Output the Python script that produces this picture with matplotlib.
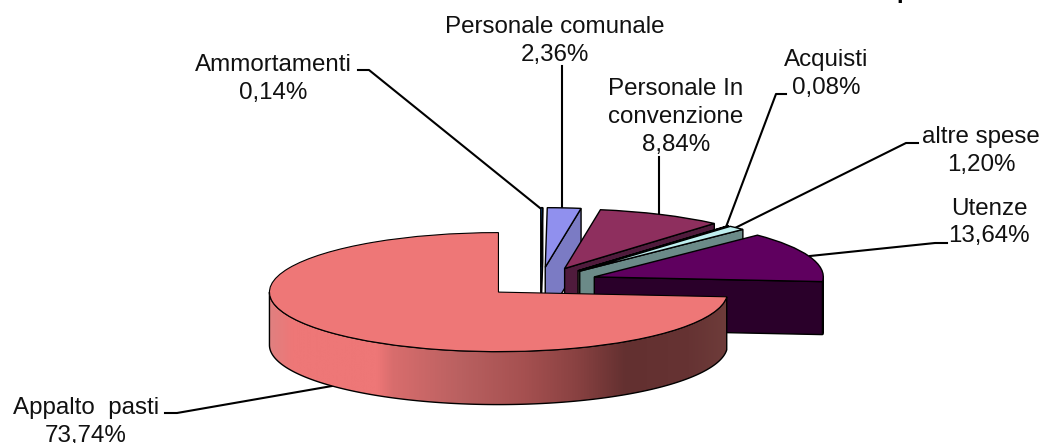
import numpy as np
import matplotlib
matplotlib.use("Agg")
import matplotlib.pyplot as plt
from matplotlib.colors import LinearSegmentedColormap
from matplotlib.patches import Polygon

plt.rcParams['font.family'] = ['Liberation Sans', 'DejaVu Sans']

# Data, clockwise from 12 o'clock
names = ["Ammortamenti", "Personale comunale", "Personale In\nconvenzione", "Acquisti",
         "altre spese", "Utenze", "Appalto  pasti"]
shares = [0.14, 2.36, 8.84, 0.08, 1.20, 13.64, 73.74]
top_colors = ["#0A4C94", "#9090EE", "#8E2F5E", "#EFEFBF", "#BFEFEF", "#5F005F", "#EE7777"]
wall_colors = ["#0B3560", "#7B7BC4", "#4F1B3C", "#77775F", "#6B8A88", "#2A002A", "#EE7777"]

W, H = 1045, 443
CX, CY, RX, RY = 540.5, 282.0, 229.0, 59.5   # pie centre and radii in pixels
DEPTH = 53.0 / RY

fig = plt.figure(figsize=(W / 100, H / 100), dpi=100)
ax = fig.add_axes([0, 0, 1, 1])

wedges, _ = ax.pie(shares, explode=[0.25] * len(shares), startangle=90, counterclock=False,
                   colors=top_colors, radius=1,
                   wedgeprops=dict(edgecolor="black", linewidth=1.0))

gradient_stops = [(0.00, "#E08080"), (0.05, "#EE7777"), (0.235, "#EE7777"), (0.27, "#D86D6D"),
                  (0.42, "#B96060"), (0.56, "#A55050"), (0.67, "#8A4242"), (0.78, "#633030"),
                  (0.92, "#663333"), (1.00, "#6E3C3A")]
cmap = LinearSegmentedColormap.from_list("wall", gradient_stops)

for i, w in enumerate(wedges):
    z = 2 * i + 2
    w.set_zorder(z + 1)
    cx, cy = w.center
    t1, t2 = w.theta1, w.theta2
    big = i == len(wedges) - 1
    if big:
        w.set_linewidth(0.8)
    # flat cut wall on the clockwise edge when it faces the viewer
    if np.cos(np.radians(t1)) > 1e-6:
        ex, ey = cx + np.cos(np.radians(t1)), cy + np.sin(np.radians(t1))
        ax.add_patch(Polygon([(cx, cy), (ex, ey), (ex, ey - DEPTH), (cx, cy - DEPTH)],
                             closed=True, facecolor=wall_colors[i], edgecolor="black",
                             linewidth=1.0, zorder=z))
    # outer rim, front half only
    a, b = max(t1, -180.0), min(t2, 0.0)
    if b > a:
        th = np.radians(np.linspace(a, b, 240))
        xs, ys = cx + np.cos(th), cy + np.sin(th)
        rim = np.r_[np.c_[xs, ys], np.c_[xs[::-1], ys[::-1] - DEPTH]]
        p = Polygon(rim, closed=True, facecolor="none" if big else wall_colors[i],
                    edgecolor="black", linewidth=1.0, zorder=z + 0.5)
        ax.add_patch(p)
        if big:
            im = ax.imshow(np.linspace(0, 1, 512)[None, :], cmap=cmap, aspect="auto",
                           extent=(xs.min(), xs.max(), ys.min() - DEPTH, ys.max()), zorder=z)
            im.set_clip_path(p)

ax.set_aspect("auto")
ax.set_xlim(-CX / RX, (W - CX) / RX)
ax.set_ylim((CY - H) / RY, CY / RY)
ax.axis("off")


def px(x, y):
    return (x - CX) / RX, (CY - y) / RY


# Labels: centre x, centre y of the block
percent = [f"{v:.2f}%".replace(".", ",") for v in shares]
label_pos = [(273, 79), (555, 41), (676, 117), (826, 74), (981, 151), (989, 222.5), (86, 422)]
leaders = [[(358, 70), (369, 70), (540, 208)],
           [(562, 66), (562, 208)],
           [(659, 157), (659, 213)],
           [(786, 94), (776, 94), (726, 227)],
           [(918, 143), (906, 143), (735, 228)],
           [(947, 243), (935, 243), (810, 256)],
           [(165, 413), (177, 413), (332, 386)]]

for name, pct, (lx, ly), pts in zip(names, percent, label_pos, leaders):
    x, y = px(lx, ly)
    ax.text(x, y, f"{name}\n{pct}", ha="center", va="center", fontsize=17.4,
            linespacing=1.33, color="#111111", zorder=30)
    q = np.array([px(*p) for p in pts])
    ax.plot(q[:, 0], q[:, 1], color="black", lw=1.5, zorder=1)

# Only the descender of the cut-off title's "p" shows at the top edge
tx, ty = px(896, -2)
ax.text(tx, ty, "p", ha="left", va="baseline", fontsize=17.4, fontweight="bold", color="black")

fig.savefig("out.png", dpi=100, facecolor="white")
